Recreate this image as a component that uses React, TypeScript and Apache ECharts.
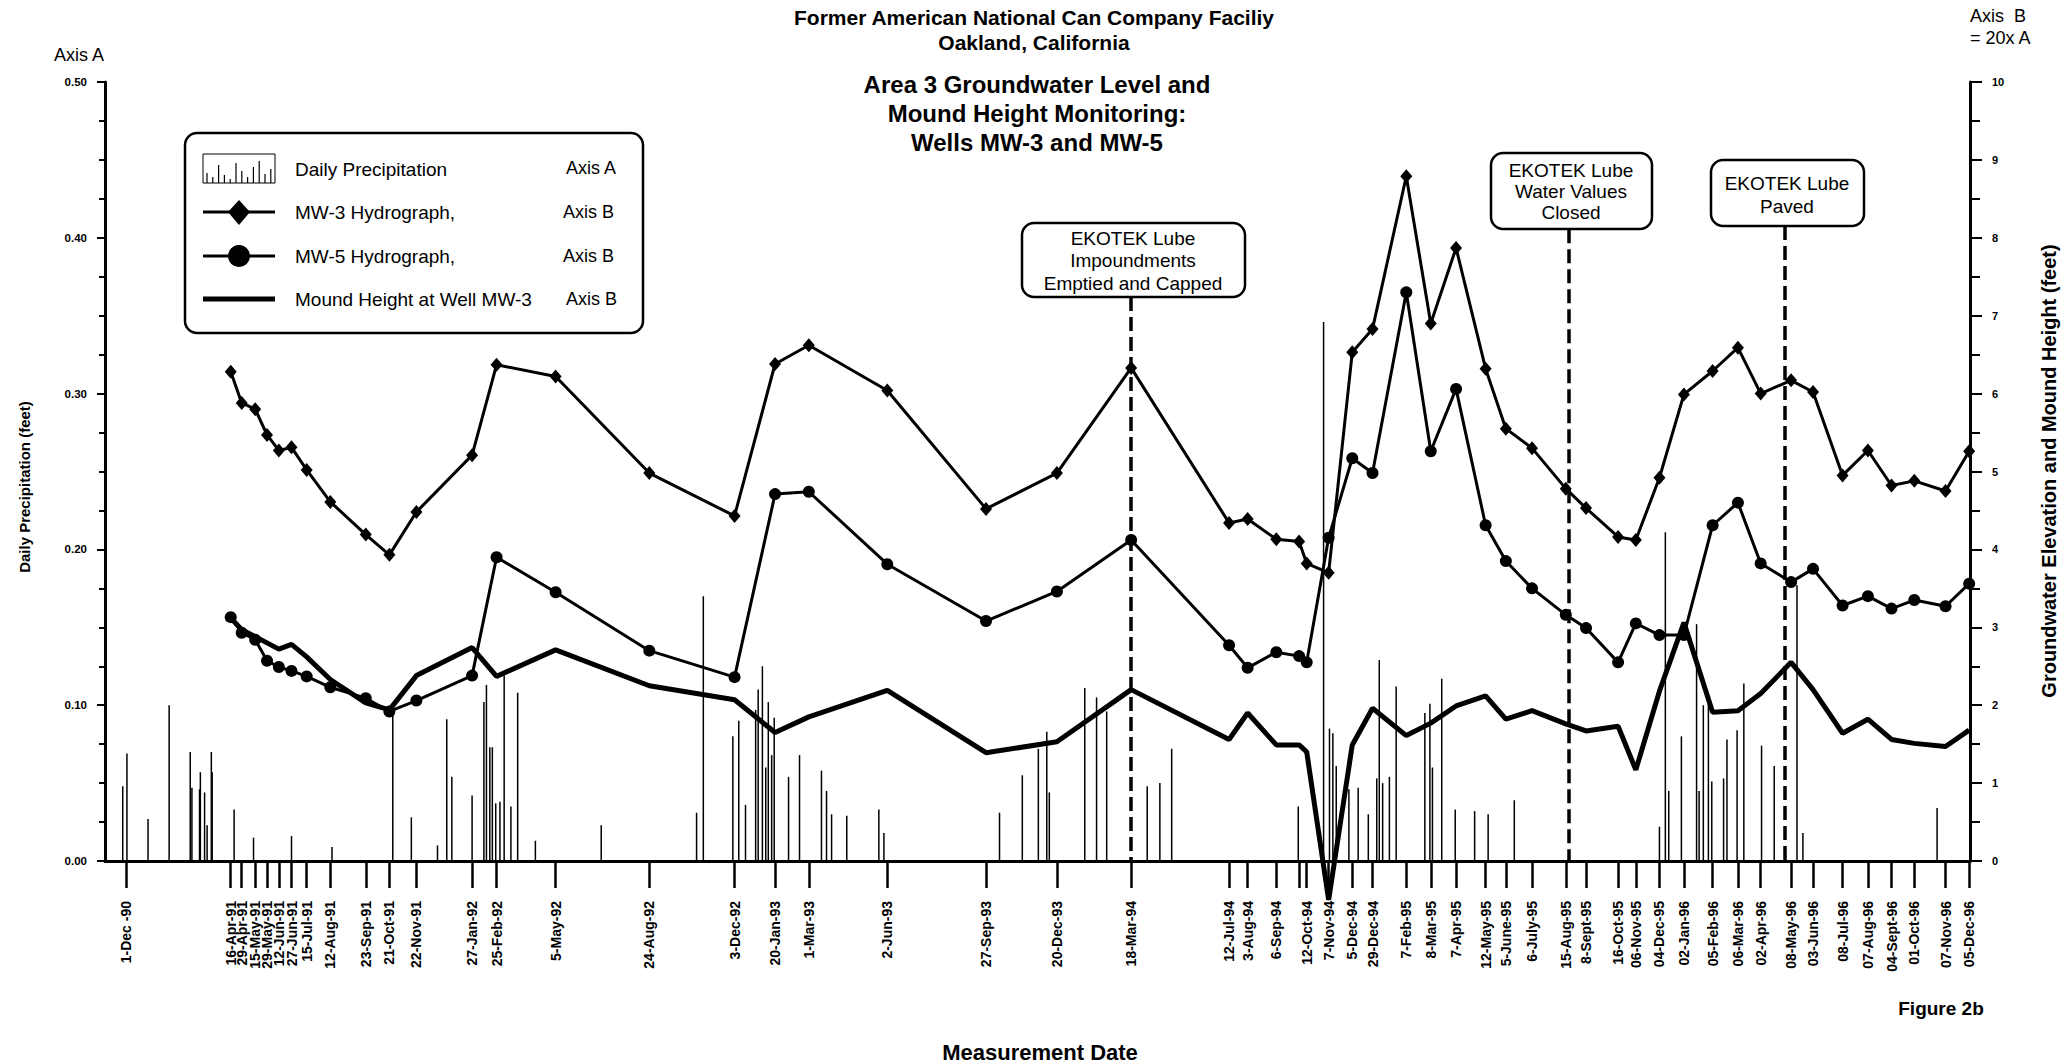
import React, { useEffect, useRef } from 'react';
import * as echarts from 'echarts';

// ---------- data ----------
const tickDates = [
  '1990-12-13',
  '1991-04-16', '1991-04-29', '1991-05-15', '1991-05-29', '1991-06-12', '1991-06-27', '1991-07-15', '1991-08-12', '1991-09-23', '1991-10-21', '1991-11-22',
  '1992-01-27', '1992-02-25', '1992-05-05', '1992-08-24', '1992-12-03',
  '1993-01-20', '1993-03-01', '1993-06-02', '1993-09-27', '1993-12-20',
  '1994-03-18', '1994-07-12', '1994-08-03', '1994-09-06', '1994-10-03', '1994-10-12', '1994-11-07', '1994-12-05', '1994-12-29',
  '1995-02-07', '1995-03-08', '1995-04-07', '1995-05-12', '1995-06-05', '1995-07-06', '1995-08-15', '1995-09-08', '1995-10-16', '1995-11-06', '1995-12-04',
  '1996-01-02', '1996-02-05', '1996-03-06', '1996-04-02', '1996-05-08', '1996-06-03', '1996-07-08', '1996-08-07', '1996-09-04', '1996-10-01', '1996-11-07', '1996-12-05',
];
const tickLabels = [
  '1-Dec -90',
  '16-Apr-91', '29-Apr-91', '15-May-91', '29-May-91', '12-Jun-91', '27-Jun-91', '15-Jul-91', '12-Aug-91', '23-Sep-91', '21-Oct-91', '22-Nov-91',
  '27-Jan-92', '25-Feb-92', '5-May-92', '24-Aug-92', '3-Dec-92',
  '20-Jan-93', '1-Mar-93', '2-Jun-93', '27-Sep-93', '20-Dec-93',
  '18-Mar-94', '12-Jul-94', '3-Aug-94', '6-Sep-94', '', '12-Oct-94', '7-Nov-94', '5-Dec-94', '29-Dec-94',
  '7-Feb-95', '8-Mar-95', '7-Apr-95', '12-May-95', '5-June-95', '6-July-95', '15-Aug-95', '8-Sept-95', '16-Oct-95', '06-Nov-95', '04-Dec-95',
  '02-Jan-96', '05-Feb-96', '06-Mar-96', '02-Apr-96', '08-May-96', '03-Jun-96', '08-Jul-96', '07-Aug-96', '04-Sept-96', '01-Oct-96', '07-Nov-96', '05-Dec-96',
];

const measureDates = tickDates.slice(1);

const mw3 = [
  6.28, 5.88, 5.80, 5.47, 5.27, 5.31, 5.02, 4.61, 4.19, 3.93, 4.48,
  5.21, 6.37, 6.22, 4.98, 4.43,
  6.38, 6.62, 6.04, 4.52, 4.98,
  6.33, 4.34, 4.39, 4.13, 4.10, 3.82, 3.70, 6.53, 6.83,
  8.79, 6.90, 7.87, 6.32, 5.55, 5.30, 4.78, 4.53, 4.16, 4.12, 4.92,
  5.99, 6.29, 6.59, 6.00, 6.17, 6.02, 4.95, 5.27, 4.82, 4.88, 4.75, 5.26,
];
const mw5 = [
  3.13, 2.93, 2.84, 2.57, 2.49, 2.44, 2.37, 2.23, 2.09, 1.92, 2.06,
  2.38, 3.90, 3.45, 2.70, 2.36,
  4.71, 4.74, 3.81, 3.08, 3.46,
  4.12, 2.77, 2.48, 2.68, 2.63, 2.55, 4.15, 5.17, 4.98,
  7.30, 5.26, 6.06, 4.31, 3.85, 3.50, 3.16, 2.99, 2.55, 3.05, 2.90,
  2.90, 4.31, 4.60, 3.82, 3.58, 3.75, 3.28, 3.40, 3.24, 3.35, 3.27, 3.56,
];
const mound = [
  3.12, 2.97, 2.88, 2.80, 2.72, 2.78, 2.62, 2.33, 2.03, 1.94, 2.38,
  2.74, 2.37, 2.71, 2.25, 2.07,
  1.65, 1.85, 2.19, 1.39, 1.53,
  2.20, 1.56, 1.90, 1.49, 1.49, 1.40, -0.50, 1.49, 1.96,
  1.61, 1.77, 1.99, 2.12, 1.82, 1.93, 1.76, 1.67, 1.73, 1.17, 2.18,
  3.06, 1.91, 1.93, 2.15, 2.55, 2.20, 1.64, 1.82, 1.56, 1.51, 1.47, 1.68,
];

const precipDates = [
  '1990-12-09', '1990-12-14', '1991-01-08', '1991-02-02', '1991-02-27', '1991-03-01', '1991-03-10', '1991-03-11', '1991-03-16', '1991-03-19',
  '1991-03-24', '1991-03-25', '1991-04-20', '1991-05-13', '1991-06-27', '1991-08-14', '1991-10-25', '1991-11-16', '1991-12-17', '1991-12-28',
  '1992-01-03', '1992-01-27', '1992-02-10', '1992-02-13', '1992-02-17', '1992-02-20', '1992-02-24', '1992-02-29', '1992-03-05', '1992-03-13',
  '1992-03-21', '1992-04-11', '1992-06-28', '1992-10-19', '1992-10-27', '1992-12-01', '1992-12-08', '1992-12-16', '1992-12-28', '1992-12-31',
  '1993-01-05', '1993-01-09', '1993-01-12', '1993-01-16', '1993-01-19', '1993-02-05', '1993-02-18', '1993-03-16', '1993-03-22', '1993-03-28',
  '1993-04-15', '1993-05-23', '1993-05-29', '1993-10-13', '1993-11-09', '1993-11-28', '1993-12-08', '1993-12-11', '1994-01-22', '1994-02-05',
  '1994-02-17', '1994-04-06', '1994-04-21', '1994-05-05', '1994-10-02', '1994-11-01', '1994-11-08', '1994-11-12', '1994-11-16', '1994-12-01',
  '1994-12-12', '1994-12-24', '1995-01-03', '1995-01-06', '1995-01-10', '1995-01-18', '1995-01-26', '1995-03-01', '1995-03-07', '1995-03-10',
  '1995-03-21', '1995-04-06', '1995-04-29', '1995-05-15', '1995-06-15', '1995-12-04', '1995-12-11', '1995-12-15', '1995-12-30', '1996-01-17',
  '1996-01-20', '1996-01-25', '1996-01-31', '1996-02-04', '1996-02-18', '1996-02-22', '1996-03-05', '1996-03-13', '1996-04-03', '1996-04-18',
  '1996-05-15', '1996-05-22', '1996-10-28',
];
const precipValues = [
  0.048, 0.069, 0.027, 0.100, 0.070, 0.047, 0.046, 0.057, 0.044, 0.023,
  0.070, 0.057, 0.033, 0.015, 0.016, 0.009, 0.096, 0.028, 0.010, 0.091,
  0.054, 0.042, 0.102, 0.113, 0.073, 0.073, 0.037, 0.038, 0.119, 0.035,
  0.108, 0.013, 0.023, 0.031, 0.170, 0.080, 0.090, 0.036, 0.097, 0.110,
  0.125, 0.060, 0.102, 0.068, 0.092, 0.054, 0.068, 0.058, 0.045, 0.030,
  0.029, 0.033, 0.018, 0.031, 0.055, 0.072, 0.083, 0.044, 0.111, 0.105,
  0.096, 0.048, 0.050, 0.072, 0.035, 0.346, 0.085, 0.082, 0.061, 0.046,
  0.047, 0.030, 0.053, 0.129, 0.050, 0.054, 0.112, 0.095, 0.101, 0.060,
  0.117, 0.033, 0.032, 0.030, 0.039, 0.022, 0.211, 0.045, 0.080, 0.152,
  0.045, 0.100, 0.106, 0.051, 0.053, 0.078, 0.084, 0.114, 0.074, 0.061,
  0.177, 0.018, 0.034,
];

// event annotations (vertical dashed lines)
const eventDates = ['1994-03-18', '1995-08-18', '1996-04-30'];
const eventTops = [7.24, 8.11, 8.15];

// ---------- helpers ----------
const FONT = '"Liberation Sans", Arial, Helvetica, sans-serif';
function ts(s: string): number {
  const [y, m, d] = s.split('-').map(Number);
  return new Date(y, m - 1, d).getTime();
}

function txt(text: string, x: number, y: number, size: number, weight: string = 'normal', align: string = 'center', extra: any = {}) {
  return {
    type: 'text', x, y, z: 100, silent: true, ...extra,
    style: { text, fontSize: size, fontWeight: weight, fontFamily: FONT, fill: '#000', align, verticalAlign: 'middle' },
  };
}

function roundBox(x: number, y: number, w: number, h: number) {
  return {
    type: 'rect', z: 99, silent: true,
    shape: { x, y, width: w, height: h, r: 12 },
    style: { fill: '#fff', stroke: '#000', lineWidth: 2.5 },
  };
}

const legendIconBars = [10, 6, 18, 8, 4, 20, 12, 6, 16, 22, 9, 14];

export default function App() {
  const ref = useRef<HTMLDivElement>(null);

  useEffect(() => {
    if (!ref.current) return;
    const chart = echarts.init(ref.current, null, { renderer: 'svg' });

    const tickTs = tickDates.map(ts);
    const labelMap = new Map<number, string>();
    tickTs.forEach((t, i) => labelMap.set(t, tickLabels[i]));

    const mkSeries = (vals: number[]) => measureDates.map((d, i) => [ts(d), vals[i]]);

    const graphic: any[] = [
      // titles
      txt('Former American National Can Company Faciliy', 1034, 17, 21, 'bold'),
      txt('Oakland, California', 1034, 42, 21, 'bold'),
      txt('Area 3 Groundwater Level and', 1037, 84, 24, 'bold'),
      txt('Mound Height Monitoring:', 1037, 113, 24, 'bold'),
      txt('Wells MW-3 and MW-5', 1037, 142, 24, 'bold'),
      txt('Axis A', 54, 55, 18, 'normal', 'left'),
      txt('Axis  B', 1970, 16, 18, 'normal', 'left'),
      txt('= 20x A', 1970, 38, 18, 'normal', 'left'),
      txt('Daily Precipitation (feet)', 24, 487, 15, 'bold', 'center', { rotation: Math.PI / 2 }),
      txt('Groundwater Elevation and Mound Height (feet)', 2049, 471, 20, 'bold', 'center', { rotation: Math.PI / 2 }),
      txt('Measurement Date', 1040, 1052, 22, 'bold'),
      txt('Figure 2b', 1941, 1008, 19, 'bold'),
      // legend
      roundBox(185, 133, 458, 200),
      { type: 'rect', z: 100, silent: true, shape: { x: 203, y: 154, width: 72, height: 29 }, style: { fill: 'none', stroke: '#000', lineWidth: 1 } },
      ...legendIconBars.map((h, i) => ({
        type: 'line', z: 100, silent: true,
        shape: { x1: 207 + i * 5.8, y1: 183, x2: 207 + i * 5.8, y2: 183 - h },
        style: { stroke: '#000', lineWidth: 1.2 },
      })),
      { type: 'line', z: 100, silent: true, shape: { x1: 203, y1: 212, x2: 275, y2: 212 }, style: { stroke: '#000', lineWidth: 3 } },
      { type: 'polygon', z: 101, silent: true, shape: { points: [[239, 200], [250, 212], [239, 225], [228, 212]] }, style: { fill: '#000' } },
      { type: 'line', z: 100, silent: true, shape: { x1: 203, y1: 256, x2: 275, y2: 256 }, style: { stroke: '#000', lineWidth: 3 } },
      { type: 'circle', z: 101, silent: true, shape: { cx: 239, cy: 256, r: 11 }, style: { fill: '#000' } },
      { type: 'line', z: 100, silent: true, shape: { x1: 203, y1: 299, x2: 275, y2: 299 }, style: { stroke: '#000', lineWidth: 5 } },
      txt('Daily Precipitation', 295, 169, 19, 'normal', 'left'),
      txt('MW-3 Hydrograph,', 295, 212, 19, 'normal', 'left'),
      txt('MW-5 Hydrograph,', 295, 256, 19, 'normal', 'left'),
      txt('Mound Height at Well MW-3', 295, 299, 19, 'normal', 'left'),
      txt('Axis A', 566, 168, 18, 'normal', 'left'),
      txt('Axis B', 563, 212, 18, 'normal', 'left'),
      txt('Axis B', 563, 256, 18, 'normal', 'left'),
      txt('Axis B', 566, 299, 18, 'normal', 'left'),
      // event boxes
      roundBox(1022, 223, 223, 74),
      txt('EKOTEK Lube', 1133, 238, 19),
      txt('Impoundments', 1133, 260, 19),
      txt('Emptied and Capped', 1133, 283, 19),
      roundBox(1491, 153, 161, 76),
      txt('EKOTEK Lube', 1571, 170, 19),
      txt('Water Values', 1571, 191, 19),
      txt('Closed', 1571, 212, 19),
      roundBox(1711, 160, 153, 66),
      txt('EKOTEK Lube', 1787, 183, 19),
      txt('Paved', 1787, 206, 19),
    ];

    const option: any = {
      animation: false,
      backgroundColor: '#ffffff',
      grid: { left: 105, right: 95, top: 82, bottom: 202, containLabel: false },
      xAxis: {
        type: 'value',
        min: ts('1990-11-18'),
        max: ts('1996-12-06'),
        axisLine: { show: true, onZero: false, lineStyle: { color: '#000', width: 3 } },
        axisTick: { show: true, customValues: tickTs, length: 27, lineStyle: { color: '#000', width: 2.5 } },
        axisLabel: {
          show: true, customValues: tickTs, rotate: 90, margin: 40,
          formatter: (v: number) => labelMap.get(v) ?? '',
          fontSize: 14, fontWeight: 'bold', color: '#000', fontFamily: FONT,
        },
        splitLine: { show: false },
      },
      yAxis: [
        {
          type: 'value', min: 0, max: 0.5, interval: 0.1, position: 'left',
          axisLine: { show: true, lineStyle: { color: '#000', width: 3 } },
          axisTick: { show: true, length: 8, lineStyle: { color: '#000', width: 2 } },
          minorTick: { show: true, splitNumber: 4, length: 6, lineStyle: { color: '#000', width: 2 } },
          axisLabel: { formatter: (v: number) => v.toFixed(2), fontSize: 11.5, fontWeight: 'bold', color: '#000', margin: 18, fontFamily: FONT },
          splitLine: { show: false },
        },
        {
          type: 'value', min: 0, max: 10, interval: 1, position: 'right',
          axisLine: { show: true, lineStyle: { color: '#000', width: 3 } },
          axisTick: { show: true, length: 12, lineStyle: { color: '#000', width: 2 } },
          minorTick: { show: true, splitNumber: 2, length: 10, lineStyle: { color: '#000', width: 2 } },
          axisLabel: { fontSize: 11, fontWeight: 'bold', color: '#000', margin: 22, fontFamily: FONT },
          splitLine: { show: false },
        },
      ],
      series: [
        {
          name: 'Daily Precipitation', type: 'bar', xAxisIndex: 0, yAxisIndex: 0,
          barWidth: 1.5, itemStyle: { color: '#000' },
          data: precipDates.map((d, i) => [ts(d), precipValues[i]]),
          z: 1,
        },
        {
          name: 'Mound Height at Well MW-3', type: 'line', yAxisIndex: 1,
          data: mkSeries(mound), showSymbol: false, symbol: 'none', clip: false,
          lineStyle: { color: '#000', width: 5 }, z: 3,
        },
        {
          name: 'MW-5 Hydrograph', type: 'line', yAxisIndex: 1,
          data: mkSeries(mw5), symbol: 'circle', symbolSize: 12,
          itemStyle: { color: '#000' }, lineStyle: { color: '#000', width: 3 }, z: 4,
        },
        {
          name: 'MW-3 Hydrograph', type: 'line', yAxisIndex: 1,
          data: mkSeries(mw3), symbol: 'diamond', symbolSize: [12, 14],
          itemStyle: { color: '#000' }, lineStyle: { color: '#000', width: 3 }, z: 5,
          markLine: {
            silent: true, symbol: ['none', 'none'], label: { show: false },
            lineStyle: { color: '#000', width: 3.5, type: [14, 6] },
            data: eventDates.map((d, i) => [{ coord: [ts(d), eventTops[i]] }, { coord: [ts(d), 0] }]),
          },
        },
      ],
      graphic,
    };

    chart.setOption(option);
    return () => chart.dispose();
  }, []);

  return (
    <div
      ref={ref}
      style={{ position: 'fixed', left: 0, top: 0, width: 2065, height: 1063, background: '#fff' }}
    />
  );
}
